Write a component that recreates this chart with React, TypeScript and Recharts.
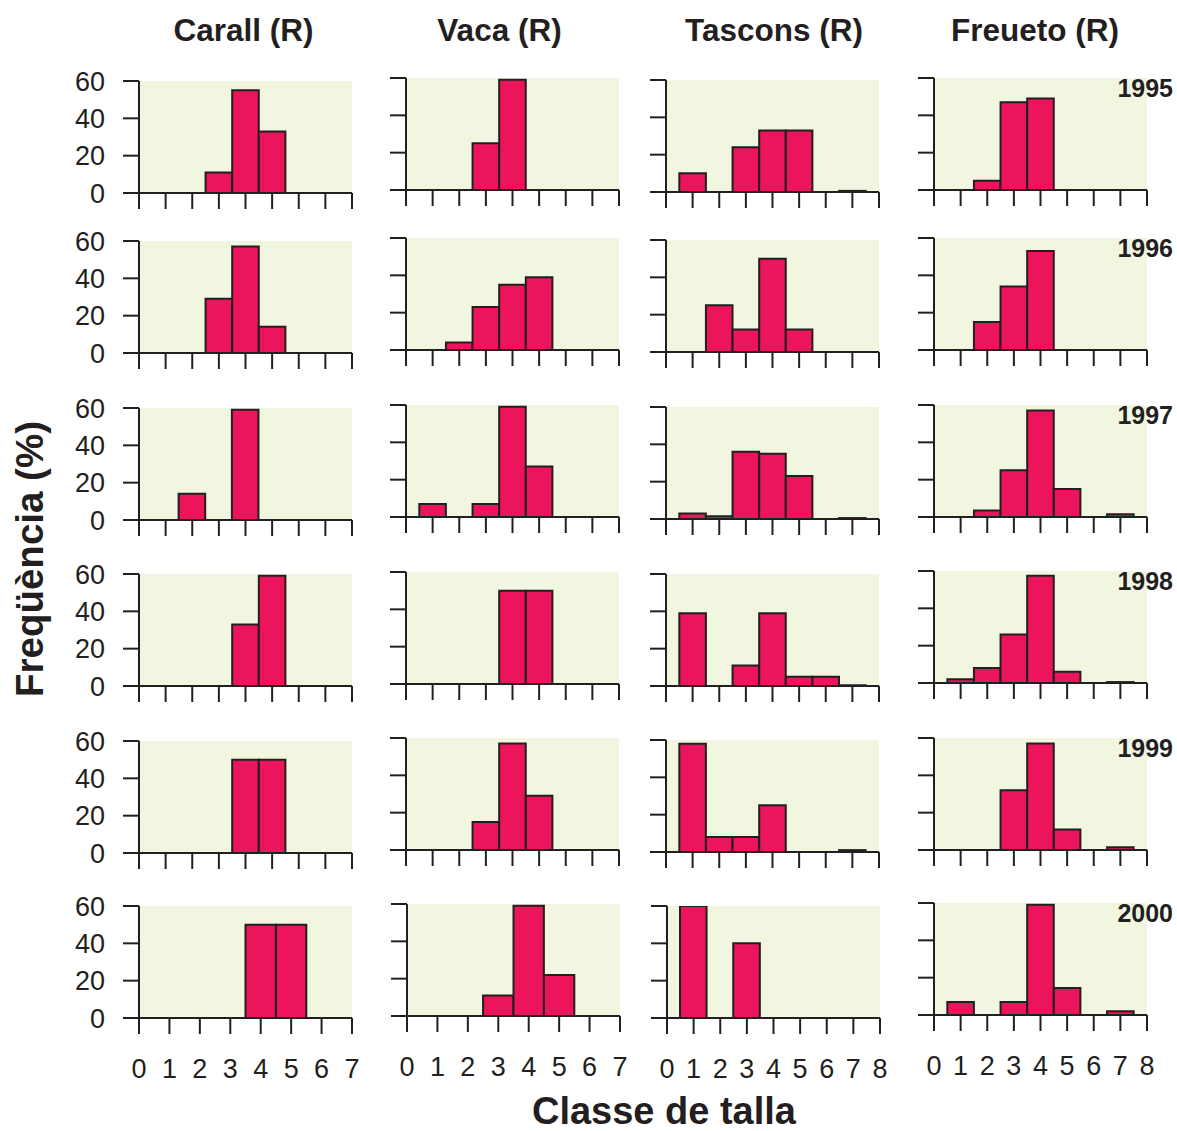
import React from 'react';
import { BarChart, Bar, XAxis, YAxis, CartesianGrid } from 'recharts';

const FONT = '"Liberation Sans", Arial, Helvetica, sans-serif';
const INK = '#231F20';
const BAR_FILL = '#EC145A';
const PANEL_BG = '#F1F6E0';

const sites = ['Carall (R)', 'Vaca (R)', 'Tascons (R)', 'Freueto (R)'];
const years = ['1995', '1996', '1997', '1998', '1999', '2000'];
const yTicks = [0, 20, 40, 60];
const xTicks7 = [0, 1, 2, 3, 4, 5, 6, 7];
const xTicks8 = [0, 1, 2, 3, 4, 5, 6, 7, 8];

// Frequency (%) per size class (index = class 0..8), one row per year
const carall: number[][] = [
  [0, 0, 0, 11, 55, 33, 0, 0, 0],
  [0, 0, 0, 29, 57, 14, 0, 0, 0],
  [0, 0, 14, 0, 59, 0, 0, 0, 0],
  [0, 0, 0, 0, 33, 59, 0, 0, 0],
  [0, 0, 0, 0, 50, 50, 0, 0, 0],
  [0, 0, 0, 0, 50, 50, 0, 0],
];
const vaca: number[][] = [
  [0, 0, 0, 25, 59, 0, 0, 0, 0],
  [0, 0, 4, 23, 35, 39, 0, 0, 0],
  [0, 7, 0, 7, 59, 27, 0, 0, 0],
  [0, 0, 0, 0, 50, 50, 0, 0, 0],
  [0, 0, 0, 15, 57, 29, 0, 0, 0],
  [0, 0, 0, 11, 59, 22, 0, 0],
];
const tascons: number[][] = [
  [0, 10, 0, 24, 33, 33, 0, 0.6, 0],
  [0, 0, 25, 12, 50, 12, 0, 0, 0],
  [0, 3, 1.5, 36, 35, 23, 0, 0.5, 0],
  [0, 39, 0, 11, 39, 5, 5, 0.4, 0],
  [0, 58, 8, 8, 25, 0, 0, 1, 0],
  [0, 60, 0, 40, 0, 0, 0, 0, 0],
];
const freueto: number[][] = [
  [0, 0, 5, 47, 49, 0, 0, 0, 0],
  [0, 0, 15, 34, 53, 0, 0, 0, 0],
  [0, 0, 3.5, 25, 57, 15, 0, 1.5, 0],
  [0, 2, 8, 26, 57.5, 6, 0, 0.5, 0],
  [0, 0, 0, 32, 57, 11, 0, 1.5, 0],
  [0, 7, 0, 7, 59, 14.5, 0, 2, 0],
];

const siteData = [carall, vaca, tascons, freueto];
const lastRowTicks = [xTicks7, xTicks7, xTicks8, xTicks8];

// layout
const colLeft = [138.5, 406, 666, 934];
const lastRowLeft = [139, 407, 667, 934];
const colDy = [0, -2.2, -0.5, -2.8];
const rowTop = [80.5, 240.5, 407.5, 574, 740.5, 906];
const PLOT_W = 213;
const PLOT_H = 112;
const titleX = [243.5, 499.5, 774, 1035];

const EmptyTick = () => <g />;

type PanelProps = {
  values: number[];
  left: number;
  top: number;
  ticks: number[];
  showY: boolean;
  showX: boolean;
};

function Panel({ values, left, top, ticks, showY, showX }: PanelProps) {
  const ML = 90;
  const MR = 20;
  const MT = 18;
  const XH = showX ? 80 : 24;
  const xMax = ticks[ticks.length - 1];
  const data = values.map((v, c) => ({ c, v })).filter((d) => d.v > 0);
  const barSize = PLOT_W / xMax - 0.05;
  return (
    <div style={{ position: 'absolute', left: left - ML, top: top - MT }}>
      <BarChart
        width={ML + PLOT_W + MR}
        height={MT + PLOT_H + XH}
        data={data}
        margin={{ top: MT, right: MR, left: 0, bottom: 0 }}
        barCategoryGap={0}
        barGap={0}
      >
        <CartesianGrid fill={PANEL_BG} horizontal={false} vertical={false} stroke="none" />
        <XAxis
          type="number"
          dataKey="c"
          domain={[0, xMax]}
          ticks={ticks}
          interval={0}
          allowDataOverflow
          height={XH}
          tickSize={16}
          tickMargin={25}
          axisLine={{ stroke: INK, strokeWidth: 2 }}
          tickLine={{ stroke: INK, strokeWidth: 2 }}
          tick={showX ? { fill: INK, fontSize: 27, fontFamily: FONT } : EmptyTick}
        />
        <YAxis
          type="number"
          domain={[0, 60]}
          ticks={yTicks}
          interval={0}
          allowDataOverflow
          width={ML}
          tickSize={16}
          tickMargin={18}
          axisLine={{ stroke: INK, strokeWidth: 2 }}
          tickLine={{ stroke: INK, strokeWidth: 2 }}
          tick={showY ? { fill: INK, fontSize: 27, fontFamily: FONT } : EmptyTick}
        />
        <Bar
          dataKey="v"
          fill={BAR_FILL}
          stroke={INK}
          strokeWidth={2}
          barSize={barSize}
          isAnimationActive={false}
        />
      </BarChart>
    </div>
  );
}

export default function App() {
  const panels: React.ReactNode[] = [];
  siteData.forEach((rows, ci) => {
    rows.forEach((values, ri) => {
      const last = ri === rows.length - 1;
      panels.push(
        <Panel
          key={`${ci}-${ri}`}
          values={values}
          left={last ? lastRowLeft[ci] : colLeft[ci]}
          top={rowTop[ri] + colDy[ci]}
          ticks={last ? lastRowTicks[ci] : xTicks8}
          showY={ci === 0}
          showX={last}
        />
      );
    });
  });
  return (
    <div
      style={{
        position: 'absolute',
        left: 0,
        top: 0,
        width: 1177,
        height: 1131,
        background: '#ffffff',
        overflow: 'hidden',
        fontFamily: FONT,
      }}
    >
      {panels}
      <svg
        width={1177}
        height={1131}
        style={{ position: 'absolute', left: 0, top: 0, pointerEvents: 'none' }}
      >
        {sites.map((s, i) => (
          <text
            key={s}
            x={titleX[i]}
            y={41}
            textAnchor="middle"
            fontFamily={FONT}
            fontWeight="bold"
            fontSize={31.5}
            fill={INK}
          >
            {s}
          </text>
        ))}
        {years.map((y, i) => (
          <text
            key={y}
            x={1173}
            y={rowTop[i] + colDy[3] + 19}
            textAnchor="end"
            fontFamily={FONT}
            fontWeight="bold"
            fontSize={25}
            fill={INK}
          >
            {y}
          </text>
        ))}
        <text
          x={43}
          y={559}
          transform="rotate(-90 43 559)"
          textAnchor="middle"
          fontFamily={FONT}
          fontWeight="bold"
          fontSize={38.5}
          fill={INK}
        >
          Freqüència (%)
        </text>
        <text
          x={664}
          y={1124}
          textAnchor="middle"
          fontFamily={FONT}
          fontWeight="bold"
          fontSize={38}
          fill={INK}
        >
          Classe de talla
        </text>
      </svg>
    </div>
  );
}
